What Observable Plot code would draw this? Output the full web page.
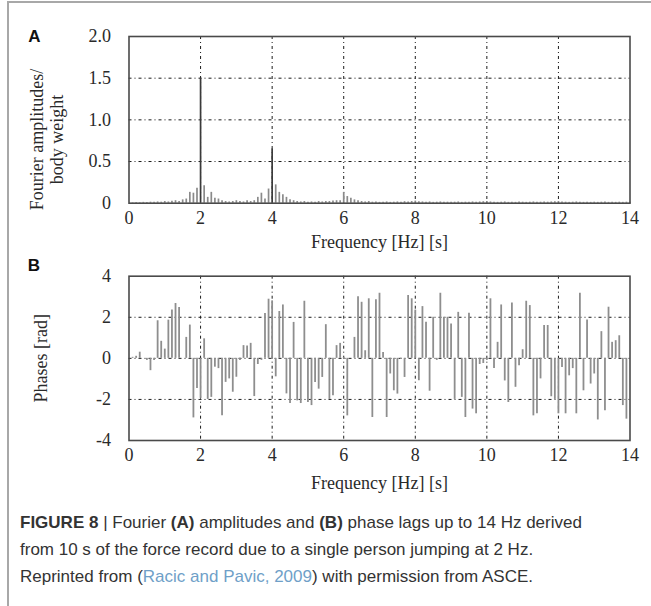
<!DOCTYPE html>
<html><head><meta charset="utf-8">
<script src="https://cdn.jsdelivr.net/npm/d3@7"></script>
<script src="https://cdn.jsdelivr.net/npm/@observablehq/plot@0.6"></script>
<style>
body{margin:0;background:#fff;}
#wrap{position:relative;width:651px;height:606px;overflow:hidden;background:#fff;}
#bl{position:absolute;left:7px;top:1px;width:1.5px;height:605px;background:#a8a8a8;}
#bt{position:absolute;left:7px;top:1px;width:644px;height:1.5px;background:#a8a8a8;}
.panel{position:absolute;left:0;}
#caption{position:absolute;left:20px;top:509px;font-family:"Liberation Sans",Arial,sans-serif;font-size:17px;line-height:27px;color:#333;white-space:nowrap;}
#caption b{font-weight:bold;}
#caption .ref{color:#6f9fc8;}
</style></head>
<body>
<div id="wrap">
  <div id="bl"></div><div id="bt"></div>
  <div id="pa" class="panel" style="top:0px"></div>
  <div id="pb" class="panel" style="top:240px"></div>
  <div id="caption"><b>FIGURE 8</b> | Fourier <b>(A)</b> amplitudes and <b>(B)</b> phase lags up to 14 Hz derived<br>from 10 s of the force record due to a single person jumping at 2 Hz.<br>Reprinted from (<span class="ref">Racic and Pavic, 2009</span>) with permission from ASCE.</div>
</div>
<script>
// Fourier amplitudes / body weight at 0.1 Hz steps, 0 .. 14 Hz
const amplitudes = [
  0, 0.005, 0.008, 0.006, 0.01, 0.008, 0.012, 0.01, 0.015, 0.012,
  0.02, 0.015, 0.022, 0.03, 0.02, 0.04, 0.05, 0.13, 0.12, 0.18,
  1.5, 0.21, 0.07, 0.13, 0.06, 0.05, 0.03, 0.02, 0.015, 0.02,
  0.03, 0.02, 0.015, 0.03, 0.02, 0.03, 0.07, 0.12, 0.05, 0.17,
  0.65, 0.22, 0.13, 0.1, 0.07, 0.04, 0.03, 0.02, 0.015, 0.02,
  0.01, 0.015, 0.01, 0.02, 0.015, 0.02, 0.02, 0.025, 0.03, 0.03,
  0.13, 0.08, 0.06, 0.04, 0.03, 0.02, 0.015, 0.02, 0.012, 0.015,
  0.01, 0.012, 0.015, 0.01, 0.012, 0.015, 0.012, 0.018, 0.015, 0.02,
  0.025, 0.018, 0.015, 0.012, 0.015, 0.01, 0.012, 0.015, 0.01, 0.012,
  0.01, 0.012, 0.015, 0.01, 0.012, 0.01, 0.015, 0.012, 0.015, 0.018,
  0.02, 0.015, 0.012, 0.01, 0.012, 0.015, 0.01, 0.012, 0.01, 0.015,
  0.012, 0.01, 0.012, 0.015, 0.01, 0.012, 0.015, 0.012, 0.015, 0.018,
  0.02, 0.015, 0.012, 0.01, 0.012, 0.015, 0.012, 0.01, 0.012, 0.01,
  0.012, 0.01, 0.012, 0.015, 0.01, 0.012, 0.01, 0.012, 0.01, 0.012,
  0.01
];
// Phases [rad] at the same frequencies
const phases = [
  0, 0.05, 0.1, 0.3, 0, -0.1, -0.6, -0.1, 1.83, 0.83,
  0.45, 1.86, 2.36, 2.67, 2.48, 0, 1.02, 1.62, -2.9, -1.47,
  -1.95, 0.95, -2.0, -1.9, -0.43, -0.5, -2.8, -1.17, -1.0, -1.65,
  -0.92, -0.1, 0.62, 0.6, 0.73, -1.86, -0.3, -0.1, 2.18, 2.88,
  2.8, -0.9, 2.28, 2.6, -1.73, -2.2, 1.75, -2.07, -2.2, 2.78,
  -2.15, -2.3, -1.17, -1.5, -0.93, 1.64, -2.0, -1.82, 0.62, 0.73,
  0.05, -2.8, 0, 1.02, 3.0, 2.73, 0.37, 2.9, -2.88, 2.85,
  3.17, 0.29, -2.88, -0.76, -1.58, -1.74, -0.05, -0.93, 3.06, 2.9,
  2.35, -1.09, 2.52, 1.76, -1.6, 2.0, -0.1, 3.17, 2.0, 2.0,
  1.67, -2.0, 2.24, -1.9, -2.88, 2.2, -2.47, -2.7, -0.3, -0.25,
  -0.1, 2.9, -0.5, 0.78, 2.6, -1.1, -2.15, 2.7, -1.41, -0.36,
  0.42, 2.78, 2.57, -2.8, -2.7, -1.0, 1.6, 1.6, -1.87, -2.0,
  -2.7, -0.44, -2.7, -0.85, -0.5, -2.7, 3.17, -1.58, 1.87, -1.25,
  -0.76, -3.0, 1.3, -2.55, 2.49, 0.78, 0.86, 1.1, -2.3, -2.96,
  0
];
const xTicks = [0, 2, 4, 6, 8, 10, 12, 14];
const xGrid = [2, 4, 6, 8, 10, 12];
const yTicksA = [0, 0.5, 1.0, 1.5, 2.0];
const yGridA = [0.5, 1.0, 1.5];
const yTicksB = [-4, -2, 0, 2, 4];
const yGridB = [-2, 0, 2];
const xLabel = "Frequency [Hz] [s]";
const yLabelA = "Fourier amplitudes/\nbody weight";
const yLabelB = "Phases [rad]";

const dataA = amplitudes.map((v, i) => ({f: i / 10, v}));
const dataB = phases.map((v, i) => ({f: i / 10, v}));

const gridStyle = {stroke: "#1a1a1a", strokeOpacity: 1, strokeWidth: 1, strokeDasharray: "3,3,1,3"};
const centered = {textAnchor: "middle", lineAnchor: "middle"};
const common = {
  width: 651,
  marginLeft: 128.5, marginRight: 21.5,
  x: {domain: [0, 14]},
  style: {fontFamily: "'Liberation Serif', 'Times New Roman', serif", fontSize: "18px", color: "#2a2a2a", background: "transparent", overflow: "visible"}
};

const plotA = Plot.plot({
  ...common,
  height: 260, marginTop: 36, marginBottom: 57.3,
  y: {domain: [0, 2]},
  marks: [
    Plot.gridX(xGrid, gridStyle),
    Plot.gridY(yGridA, gridStyle),
    Plot.ruleX(dataA, {x: "f", y1: 0, y2: "v", stroke: d => d.v > 0.5 ? "#3a3a3a" : "#8a8a8a", strokeWidth: 1.7}),
    Plot.frame({stroke: "#4a4a4a", strokeWidth: 1.6}),
    Plot.axisX(xTicks, {tickSize: 0, tickPadding: 8, tickFormat: d => String(d), label: null}),
    Plot.axisY(yTicksA, {tickSize: 0, tickPadding: 18, tickFormat: d => d === 0 ? "0" : d.toFixed(1), label: null}),
    Plot.text([xLabel], {frameAnchor: "bottom", dy: 39, text: d => d, ...centered}),
    Plot.text([yLabelA], {frameAnchor: "left", dx: -82, dy: 19.6, rotate: -90, lineHeight: 1.1, text: d => d, ...centered}),
    Plot.text(["A"], {frameAnchor: "top-left", dx: -94.5, dy: 0, text: d => d, ...centered, fontFamily: "'Liberation Sans', Arial, sans-serif", fontWeight: "bold", fontSize: 17, fill: "#111"})
  ]
});
document.getElementById("pa").appendChild(plotA);

const plotB = Plot.plot({
  ...common,
  height: 260, marginTop: 35.7, marginBottom: 60,
  y: {domain: [-4, 4]},
  marks: [
    Plot.gridX(xGrid, gridStyle),
    Plot.gridY(yGridB, gridStyle),
    Plot.ruleX(dataB, {x: "f", y1: 0, y2: "v", stroke: "#8e8e8e", strokeWidth: 1.8}),
    Plot.frame({stroke: "#4a4a4a", strokeWidth: 1.6}),
    Plot.axisX(xTicks, {tickSize: 0, tickPadding: 8, tickFormat: d => String(d), label: null}),
    Plot.axisY(yTicksB, {tickSize: 0, tickPadding: 18, tickFormat: d => String(d), label: null}),
    Plot.text([xLabel], {frameAnchor: "bottom", dy: 43, text: d => d, ...centered}),
    Plot.text([yLabelB], {frameAnchor: "left", dx: -87.5, dy: 0, rotate: -90, text: d => d, ...centered}),
    Plot.text(["B"], {frameAnchor: "top-left", dx: -95, dy: -10.7, text: d => d, ...centered, fontFamily: "'Liberation Sans', Arial, sans-serif", fontWeight: "bold", fontSize: 17, fill: "#111"})
  ]
});
document.getElementById("pb").appendChild(plotB);
</script>
</body></html>
